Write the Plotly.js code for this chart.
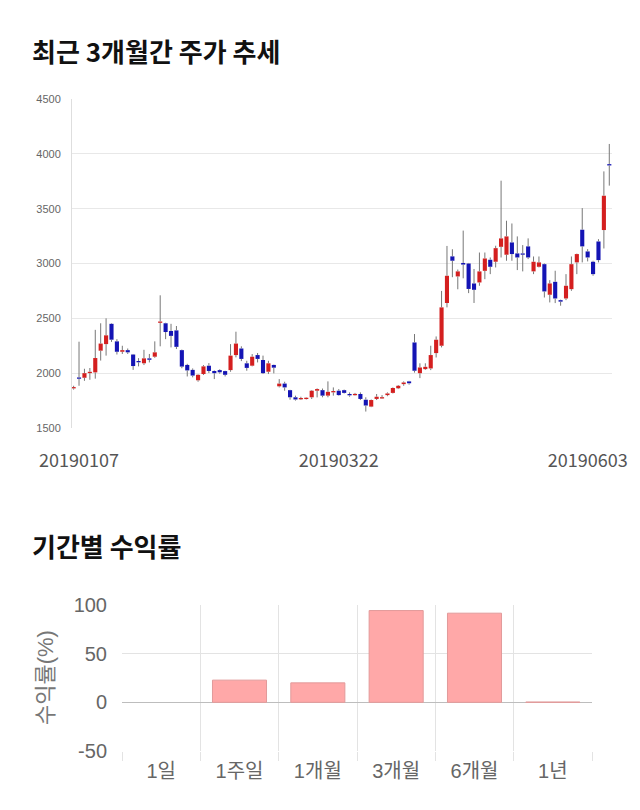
<!DOCTYPE html>
<html><head><meta charset="utf-8">
<script src="https://cdn.plot.ly/plotly-3.0.1.min.js"></script>
<style>html,body{margin:0;padding:0;background:#fff}#chart{width:640px;height:810px}</style>
</head><body><div id="chart"></div>
<script>
const openP  = [1862,1960,1958,2003,2007,2205,2265,2450,2290,2195,2210,2170,2110,2090,2135,2150,2460,2455,2385,2390,
                2210,2075,2030,1935,1992,2068,2020,2028,2019,2028,2165,2225,2090,2068,2165,2120,2013,2075,1880,1905,
                1845,1780,1765,1768,1780,1840,1845,1795,1825,1840,1845,1805,1800,1810,1758,1695,1765,1772,1800,1820,
                1862,1900,1925,2280,2000,2037,2043,2183,2250,2640,3065,2882,3005,3000,2818,2827,2933,3034,3016,3152,
                3080,3192,3092,3088,3156,2928,2970,2994,2715,2833,2666,2681,2766,3010,3308,3110,3016,3201,3305,3905];
const highP  = [1885,2287,2040,2047,2395,2455,2500,2455,2310,2250,2225,2175,2137,2213,2175,2290,2710,2460,2450,2430,
                2215,2085,2043,1990,2074,2092,2025,2035,2022,2265,2378,2245,2113,2174,2184,2160,2113,2078,1946,1922,
                1848,1795,1785,1780,1846,1861,1860,1925,1870,1855,1850,1825,1820,1825,1780,1760,1810,1800,1825,1870,
                1892,1925,1930,2357,2090,2090,2250,2335,2750,3160,3130,2945,3300,3005,2950,3100,3100,3055,3162,3755,
                3390,3365,3247,3168,3229,3064,3064,3000,2848,2934,2670,2903,3064,3090,3505,3131,3025,3222,3840,4090];
const lowP   = [1850,1885,1930,1940,1950,2115,2160,2285,2170,2175,2175,2030,2062,2074,2098,2140,2245,2310,2235,2220,
                2045,1970,1962,1922,1983,2001,1946,1995,1970,2013,2144,2110,2022,2062,2098,1992,1992,1998,1870,1840,
                1758,1750,1755,1760,1765,1779,1780,1780,1795,1795,1815,1785,1795,1755,1650,1690,1755,1765,1790,1815,
                1855,1885,1895,2005,1955,2030,2028,2143,2235,2600,2875,2765,2865,2730,2640,2797,2857,2903,2964,3055,
                3025,3025,2940,2928,3040,2903,2964,2690,2645,2639,2615,2666,2751,2903,3010,3019,2888,3010,3137,3710];
const closeP = [1872,1950,2000,2010,2138,2270,2345,2305,2195,2210,2190,2065,2100,2135,2122,2190,2470,2375,2340,2240,
                2060,2025,1978,1985,2062,2020,2000,2008,1985,2160,2270,2130,2048,2150,2130,2000,2090,2050,1905,1870,
                1780,1760,1770,1772,1840,1855,1795,1830,1837,1800,1820,1803,1810,1765,1705,1755,1785,1778,1815,1865,
                1885,1915,1908,2022,2052,2058,2165,2305,2600,2888,3025,2928,2990,2768,2760,2928,3046,2970,3140,3229,
                3247,3086,3055,3084,3055,3016,3010,2745,2818,2681,2652,2797,2994,3086,3156,3055,2903,3031,3618,3895];
const tickIndex  = [1, 49, 95];
const tickLabels = ['20190107', '20190322', '20190603'];

const periods = ['1일', '1주일', '1개월', '3개월', '6개월', '1년'];
const returns = [null, 22.8, 20.0, 94.3, 91.6, 0.3];
const retTicks = [-50, 0, 50, 100];
const retTickText = ['-50', '0', '50', '100'];

const idx = openP.map((_, i) => i);
const minBody = 12;
const bodyBase = idx.map(i => {
  const lo = Math.min(openP[i], closeP[i]), d = Math.abs(closeP[i] - openP[i]);
  return d < minBody ? (openP[i] + closeP[i]) / 2 - minBody / 2 : lo;
});
const bodyH = idx.map(i => Math.max(Math.abs(closeP[i] - openP[i]), minBody));
const bodyCol = idx.map(i => closeP[i] >= openP[i] ? '#d41f1f' : '#1414b4');
const wx = [], wy = [];
idx.forEach(i => {
  const b0 = bodyBase[i], b1 = bodyBase[i] + bodyH[i];
  if (lowP[i] < b0) { wx.push(i, i, null); wy.push(lowP[i], b0, null); }
  if (highP[i] > b1) { wx.push(i, i, null); wy.push(b1, highP[i], null); }
});

const traces = [
  {type:'bar', x:idx, y:bodyH, base:bodyBase, width:0.76, marker:{color:bodyCol, line:{width:0}},
   hoverinfo:'skip', xaxis:'x', yaxis:'y', showlegend:false},
  {type:'scatter', mode:'lines', x:wx, y:wy, line:{color:'#777', width:1},
   hoverinfo:'skip', xaxis:'x', yaxis:'y', showlegend:false},
  {type:'bar', x:periods, y:returns, width:0.69,
   marker:{color:'#ffa8a8', line:{color:'#e29a9a', width:1}},
   hoverinfo:'skip', xaxis:'x2', yaxis:'y2', showlegend:false}
];

const layout = {
  width:640, height:810, margin:{l:0, r:0, t:0, b:0},
  paper_bgcolor:'#fff', plot_bgcolor:'#fff', showlegend:false, barmode:'overlay',
  xaxis:{domain:[72/640, 612/640], range:[-0.3, 99.5], anchor:'y',
    tickmode:'array', tickvals:tickIndex, ticktext:tickLabels,
    showgrid:false, zeroline:false, showline:false,
    ticks:'outside', ticklen:16, tickcolor:'rgba(0,0,0,0)',
    tickfont:{family:'Noto Sans CJK KR', size:18, color:'#555'}},
  yaxis:{domain:[1-428/810, 1-99/810], range:[1500, 4500], dtick:500, anchor:'x',
    gridcolor:'#e8e8e8', zeroline:false, showline:true, linecolor:'#dedede',
    ticks:'outside', ticklen:8, tickcolor:'rgba(0,0,0,0)',
    tickfont:{family:'Liberation Sans', size:11, color:'#666'}},
  xaxis2:{domain:[122/640, 592/640], anchor:'y2', type:'category', categoryorder:'array', categoryarray:periods,
    tickson:'boundaries', showgrid:true, gridcolor:'#e3e3e3', zeroline:false, showline:false,
    ticks:'outside', ticklen:9, tickcolor:'#e3e3e3', ticklabelstandoff:6,
    tickfont:{family:'Liberation Sans, Noto Sans CJK KR', size:20, color:'#666'}},
  yaxis2:{domain:[1-751/810, 1-605/810], anchor:'x2', range:[-50, 100],
    tickmode:'array', tickvals:retTicks, ticktext:retTickText,
    gridcolor:'#e3e3e3', zeroline:true, zerolinecolor:'#bdbdbd', zerolinewidth:1, showline:false,
    ticks:'outside', ticklen:10, tickcolor:'rgba(0,0,0,0)',
    tickfont:{family:'Liberation Sans', size:20, color:'#666'}},
  annotations:[
    {text:'최근 3개월간 주가 추세', xref:'paper', yref:'paper', x:30/640, y:1-50/810,
     xanchor:'left', yanchor:'middle', showarrow:false,
     font:{family:'Noto Sans CJK KR', size:26, color:'#111', weight:700}},
    {text:'기간별 수익률', xref:'paper', yref:'paper', x:30/640, y:1-545/810,
     xanchor:'left', yanchor:'middle', showarrow:false,
     font:{family:'Noto Sans CJK KR', size:26, color:'#111', weight:700}},
    {text:'수익률(%)', xref:'paper', yref:'paper', x:45/640, y:1-678/810,
     xanchor:'center', yanchor:'middle', showarrow:false, textangle:-90,
     font:{family:'Liberation Sans, Noto Sans CJK KR', size:22, color:'#777'}}
  ]
};

Plotly.newPlot('chart', traces, layout, {displayModeBar:false, staticPlot:true});
</script></body></html>
